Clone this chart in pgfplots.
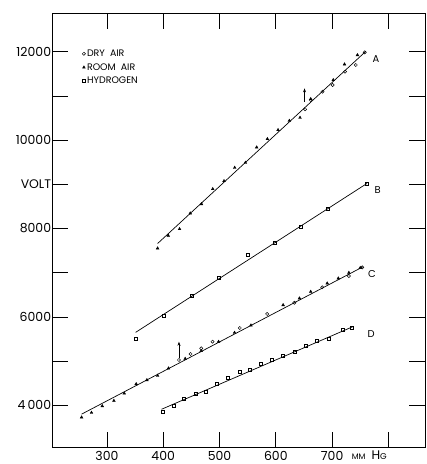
\documentclass[border=0pt]{standalone}
\usepackage{pgfplots}
\pgfplotsset{compat=1.18}
\usetikzlibrary{arrows.meta}
\usepackage{fontspec}
\setmainfont{Poppins}
\begin{document}
\begin{tikzpicture}
\useasboundingbox (-52.3bp,-16.3bp) rectangle (374.7bp,447.7bp);
\begin{axis}[
  at={(0,0)}, anchor=south west,
  width=372.7bp, height=434.4bp, scale only axis,
  xmin=203, xmax=865, ymin=3041, ymax=12869,
  scaled ticks=false,
  xtick={300,400,500,600,700,800},
  xticklabels={300,400,500,600,700,{}},
  extra x ticks={766},
  extra x tick labels={{\fontsize{8}{9}\selectfont MM}\hspace{6bp}H{\fontsize{8.5}{9}\selectfont G}},
  extra x tick style={major tick length=0pt, tick style={draw=none}},
  ytick={4000,5000,6000,7000,8000,9000,10000,11000,12000},
  yticklabels={4\,000,{},6000,{},8000,VOLT,10000,{},12000},
  tick align=inside, major tick length=16bp,
  tick style={black, line width=0.8pt},
  axis line style={line width=0.9pt},
  ticklabel style={font=\fontsize{12.5}{14}\selectfont},
  xticklabel style={inner sep=1bp, yshift=-2bp},
  yticklabel style={inner sep=1bp},
  /pgf/number format/assume math mode=true,
  legend cell align=left,
  legend image code/.code={\draw[#1] plot coordinates {(0bp,0bp)};},
  legend style={at={(0.08,0.92)}, anchor=north west, draw=none, fill=none,
    font=\fontsize{9.5}{11}\selectfont, row sep=2.5bp, inner sep=0pt,
    nodes={inner sep=1.5bp}},
  dry/.style={only marks, mark=o, mark size=1.6bp, mark options={black, line width=0.5pt}},
  room/.style={only marks, mark=triangle*, mark size=1.6bp, mark options={black, fill=black}},
  hyd/.style={only marks, mark=square, mark size=1.5bp, mark options={black, line width=0.5pt}},
  fit/.style={black, line width=0.7pt, no marks, forget plot},
]
% fitted lines
\addplot[fit] coordinates {(390,7660) (760,12010)};
\addplot[fit] coordinates {(351,5650) (762,9020)};
\addplot[fit] coordinates {(255,3800) (755,7135)};
\addplot[fit] coordinates {(397,3910) (737,5780)};

% dry air (A)
\addplot[dry] coordinates {(652,10697) (662,10907) (683,11095) (701,11247) (723,11548) (742,11699) (758,11986)};
\addlegendentry{DRY\ \ AIR}
% room air (A)
\addplot[room] coordinates {(390,7552) (409,7837) (429,7989) (448,8344) (468,8554) (488,8894) (508,9075) (527,9376) (546,9489) (566,9837) (585,10025) (604,10229) (624,10439) (643,10507) (662,10930) (702,11360) (722,11715) (745,11925)};
\addlegendentry{ROOM\ \ AIR}
% hydrogen (B)
\addplot[hyd] coordinates {(351,5516) (401,6027) (450,6480) (498,6887) (550,7416) (598,7679) (645,8041) (692.5,8457) (762,9023)};
\addlegendentry{HYDROGEN}
% dry air (C)
\addplot[dry, forget plot] coordinates {(428,5025) (448.5,5161) (467.5,5289) (487.6,5439) (536,5749) (584.7,6066) (633,6321) (682.4,6670) (729.8,6925) (753.5,7122)};
% room air (C)
\addplot[room, forget plot] coordinates {(255,3728) (272.6,3833) (291.7,3984) (312.4,4104) (330.7,4271) (352,4482) (371,4572) (390,4670) (409.4,4837) (439,5054) (467.5,5230) (498.3,5439) (526.7,5643) (555.8,5810) (613,6269) (642,6421) (662,6570) (691.3,6760) (711,6873) (729.8,7000) (750,7110)};
% hydrogen (D)
\addplot[hyd, forget plot] coordinates {(399.5,3864) (418.4,3984) (437.3,4143) (457.4,4271) (476.4,4308) (495.4,4498) (515.5,4633) (536.2,4760) (554.5,4814) (574,4941) (593.6,5025) (613,5122) (633.2,5213) (652.8,5342) (673.5,5455) (693.6,5516) (719.7,5719) (735,5765)};

% arrows
\draw[-{Stealth[length=4bp,width=3bp]}, line width=0.6pt] (axis cs:651,10870) -- (axis cs:651,11170);
\draw[-{Stealth[length=4bp,width=3bp]}, line width=0.6pt] (axis cs:428,5063) -- (axis cs:428,5439);

% line labels
\node[font=\fontsize{10}{12}\selectfont] at (axis cs:778,11830) {A};
\node[font=\fontsize{10}{12}\selectfont] at (axis cs:781,8871) {B};
\node[font=\fontsize{10}{12}\selectfont] at (axis cs:771,6964) {C};
\node[font=\fontsize{10}{12}\selectfont] at (axis cs:769.5,5606) {D};
\end{axis}
\end{tikzpicture}
\end{document}
